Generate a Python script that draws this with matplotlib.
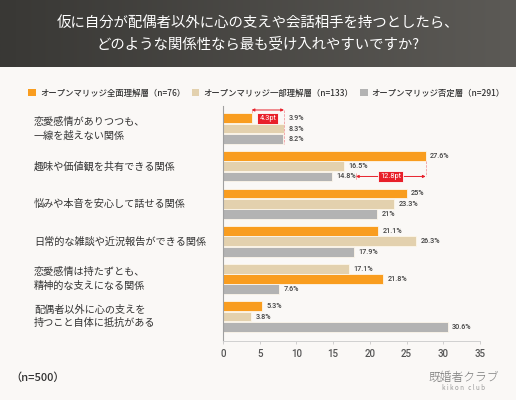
import numpy as np
import matplotlib.pyplot as plt
from matplotlib.colors import LinearSegmentedColormap
from matplotlib.patches import Patch

plt.rcParams["font.family"] = ["Noto Sans CJK JP", "DejaVu Sans"]

# ============================================================
# Data
# ============================================================

TITLE = "仮に自分が配偶者以外に心の支えや会話相手を持つとしたら、\nどのような関係性なら最も受け入れやすいですか?"

CATEGORIES = [
    "恋愛感情がありつつも、\n一線を越えない関係",
    "趣味や価値観を共有できる関係",
    "悩みや本音を安心して話せる関係",
    "日常的な雑談や近況報告ができる関係",
    "恋愛感情は持たずとも、\n精神的な支えになる関係",
    "配偶者以外に心の支えを\n持つこと自体に抵抗がある",
]

SERIES_NAMES = [
    "オープンマリッジ全面理解層（n=76）",
    "オープンマリッジ一部理解層（n=133）",
    "オープンマリッジ否定層（n=291）",
]

FULL = [3.9, 27.6, 25.0, 21.1, 21.8, 5.3]
PARTIAL = [8.3, 16.5, 23.3, 26.3, 17.1, 3.8]
DENY = [8.2, 14.8, 21.0, 17.9, 7.6, 30.6]
VALUE_TEXT = [
    ["3.9%", "27.6%", "25%", "21.1%", "21.8%", "5.3%"],
    ["8.3%", "16.5%", "23.3%", "26.3%", "17.1%", "3.8%"],
    ["8.2%", "14.8%", "21%", "17.9%", "7.6%", "30.6%"],
]

# in this group the first two rows appear in swapped order
SWAPPED_GROUPS = [4]

# gap annotations: (group, row, x_from, x_to, label)
GAPS = [
    (0, -1, 3.9, 8.3, "4.3pt"),
    (1, 2, 18.1, 27.6, "12.8pt"),
]

X_TICKS = [0, 5, 10, 15, 20, 25, 30, 35]

COLORS = ["#F99D1F", "#E3D1AE", "#B3B3B3"]
BG = "#FAF8F6"
RED = "#E8202A"
NUM_FONT = ["Roboto", "DejaVu Sans"]


def main() -> None:
    fig = plt.figure(figsize=(5.16, 4.0), dpi=100, facecolor=BG)

    # title band with a soft horizontal gradient
    band = fig.add_axes([0, 1 - 67 / 400, 1, 67 / 400])
    grad = np.linspace(0, 1, 256).reshape(1, -1)
    cmap = LinearSegmentedColormap.from_list("band", ["#393835", "#5c5a56"])
    band.imshow(grad, aspect="auto", cmap=cmap, extent=[0, 1, 0, 1])
    band.set_axis_off()
    fig.text(0.5, 1 - 34 / 400, TITLE, ha="center", va="center",
             color="white", fontsize=10.4, linespacing=1.55)

    ax = fig.add_axes([223 / 516, 59 / 400, 257 / 516, 235 / 400])
    ax.set_facecolor(BG)

    series = [FULL, PARTIAL, DENY]
    offset = 0.274
    height = 0.262
    n = len(CATEGORIES)
    centers = np.arange(n)

    bar_y = np.zeros((3, n))
    for g in range(n):
        rows = [0, 1, 2]
        if g in SWAPPED_GROUPS:
            rows = [1, 0, 2]
        for slot, r in enumerate(rows):
            bar_y[r, g] = centers[g] + (slot - 1) * offset

    for r, vals in enumerate(series):
        ax.barh(bar_y[r], vals, height=height, color=COLORS[r],
                edgecolor="#fdf6ea", linewidth=0.6, zorder=2)

    for r, vals in enumerate(series):
        for g, v in enumerate(vals):
            xpos = v
            if g == 0:
                xpos = max(s[0] for s in series)
            ax.text(xpos + 0.6, bar_y[r, g], VALUE_TEXT[r][g],
                    va="center", ha="left", fontsize=5.2,
                    family=NUM_FONT, fontweight="medium", color="#444444")

    # gap annotations
    for g, r, x0, x1, label in GAPS:
        if r < 0:
            y = bar_y[0, g] - 0.22
            box_y = bar_y[0, g]
            ax.plot([x0, x0], [y, bar_y[0, g] - height / 2], ls="--",
                    lw=0.5, color="#f08a8f", zorder=3)
            ax.plot([x1, x1], [y, bar_y[2, g] + height / 2], ls="--",
                    lw=0.5, color="#f08a8f", zorder=3)
        else:
            y = bar_y[r, g]
            box_y = y
            ax.plot([x1, x1], [bar_y[0, g] + height / 2, y], ls="--",
                    lw=0.5, color="#f08a8f", zorder=3)
            ax.plot([x0, x0], [y - 0.1, y + 0.1], ls="--",
                    lw=0.5, color="#f08a8f", zorder=3)
        ax.annotate("", xy=(x0, y), xytext=(x1, y),
                    arrowprops=dict(arrowstyle="<|-|>", color=RED, lw=0.7,
                                    mutation_scale=4, shrinkA=0, shrinkB=0),
                    zorder=4)
        ax.text((x0 + x1) / 2, box_y, label, ha="center", va="center",
                fontsize=5.3, color="white", family=NUM_FONT,
                bbox=dict(boxstyle="square,pad=0.3", fc=RED, ec="white",
                          lw=0.6), zorder=5)

    ax.set_xlim(0, 35)
    ax.set_ylim(5.65, -0.6)
    ax.set_xticks(X_TICKS)
    ax.set_xticklabels([str(t) for t in X_TICKS], family=NUM_FONT,
                       fontweight="medium", fontsize=7, color="#555555")
    ax.tick_params(axis="x", length=2.5, width=0.6, color="#c8c8c8", pad=3)
    ax.set_yticks(centers)
    ax.set_yticklabels([])
    ax.tick_params(axis="y", length=0)

    for side in ["top", "right"]:
        ax.spines[side].set_visible(False)
    ax.spines["left"].set_color("#a0a0a0")
    ax.spines["left"].set_linewidth(0.8)
    ax.spines["bottom"].set_color("#d0d0d0")
    ax.spines["bottom"].set_linewidth(0.7)

    # category labels, left aligned in the left margin
    for g, label in enumerate(CATEGORIES):
        y_fig = ax.transData.transform((0, centers[g]))[1] / fig.bbox.height
        fig.text(34 / 516, y_fig, label, ha="left", va="center",
                 fontsize=7.3, color="#333333", linespacing=1.45)

    handles = [Patch(facecolor=c, edgecolor="none") for c in COLORS]
    fig.legend(handles, SERIES_NAMES, loc="center left",
               bbox_to_anchor=(25 / 516, 1 - 93 / 400), ncol=3, frameon=False,
               prop={"size": 6, "weight": "medium"}, handlelength=0.9,
               handleheight=0.9, handletextpad=0.5, columnspacing=0.8,
               borderaxespad=0, labelcolor="#333333")

    fig.text(10 / 516, 1 - 378 / 400, "（n=500）", ha="left", va="center",
             fontsize=8, color="#333333", fontweight="medium")

    fig.text(464 / 516, 1 - 377 / 400, "既婚者クラブ", ha="center",
             va="center", fontsize=8.5, color="#7a7a7a", fontweight="light")
    fig.text(464 / 516, 1 - 388 / 400, "k i k o n   c l u b", ha="center",
             va="center", fontsize=4.5, color="#999999")

    fig.savefig("out.png", dpi=100, facecolor=BG)
    plt.close(fig)


if __name__ == "__main__":
    main()
